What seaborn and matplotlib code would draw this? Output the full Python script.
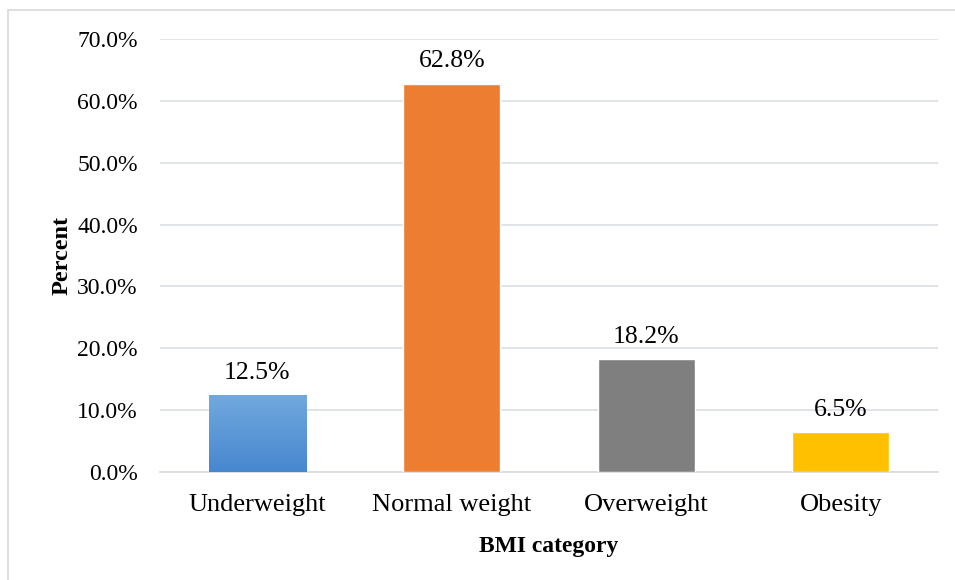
import numpy as np
import pandas as pd
import matplotlib
matplotlib.use("Agg")
import matplotlib.pyplot as plt
from matplotlib.patches import Rectangle
from matplotlib.colors import LinearSegmentedColormap
import seaborn as sns

categories = ["Underweight", "Normal weight", "Overweight", "Obesity"]
percents = [12.5, 62.8, 18.2, 6.5]
bar_colors = ["#5b9bd5", "#ed7d31", "#7f7f7f", "#ffc000"]
y_ticks = [0, 10, 20, 30, 40, 50, 60, 70]

sns.set_theme(style="white")
plt.rcParams["font.family"] = ["Liberation Serif", "DejaVu Serif"]
plt.rcParams["text.color"] = "#000000"
plt.rcParams["axes.labelcolor"] = "#000000"

df = pd.DataFrame({"category": categories, "percent": percents})

fig = plt.figure(figsize=(9.55, 5.8), dpi=100)
# outer chart frame
fig.patches.append(Rectangle((8 / 955, -0.1), 1.2, (580 - 10) / 580 + 0.1,
                             transform=fig.transFigure, fill=False,
                             edgecolor="#d9d9d9", linewidth=1.2, zorder=0))

ax = fig.add_axes([160 / 955, 108 / 580, 778 / 955, 433 / 580])
sns.barplot(data=df, x="category", y="percent", hue="category",
            palette=bar_colors, width=0.5, legend=False, ax=ax,
            saturation=1, zorder=3)

ax.set_ylim(0, 70)
ax.set_xlim(-0.5, len(categories) - 0.5)
ax.set_yticks(y_ticks)
ax.set_yticklabels([f"{v:.1f}%" for v in y_ticks], fontsize=17)
ax.tick_params(axis="x", labelsize=19, pad=16, length=0, labelcolor="#000000")
ax.tick_params(axis="y", pad=16, length=0, labelcolor="#000000")

ax.yaxis.grid(True, color="#dde1e6", linewidth=1.3, zorder=0)
ax.set_axisbelow(True)
for side in ["top", "right", "left"]:
    ax.spines[side].set_visible(False)
ax.spines["bottom"].set_color("#d9dde3")
ax.spines["bottom"].set_linewidth(1.3)

ax.set_xlabel("BMI category", fontsize=17, fontweight="bold", labelpad=14,
              color="#000000")
ax.set_ylabel("Percent", fontsize=17.5, fontweight="bold", labelpad=3,
              color="#000000")

# vertical gradient on the first bar
first = ax.patches[0]
grad = LinearSegmentedColormap.from_list("blue_grad", ["#4787cf", "#72a9de"])
x0, y0 = first.get_x(), first.get_y()
w, h = first.get_width(), first.get_height()
img = ax.imshow(np.linspace(0, 1, 256).reshape(-1, 1), cmap=grad,
                origin="lower", aspect="auto",
                extent=[x0, x0 + w, y0, y0 + h], zorder=4)
img.set_clip_path(first)

for patch, val in zip(ax.patches, percents):
    ax.annotate(f"{val:.1f}%", (patch.get_x() + patch.get_width() / 2, val),
                xytext=(0, 8), textcoords="offset points",
                ha="center", va="bottom", fontsize=18.5, color="#000000")

ax.set_ylim(0, 70)
fig.savefig("out.png", dpi=100)
